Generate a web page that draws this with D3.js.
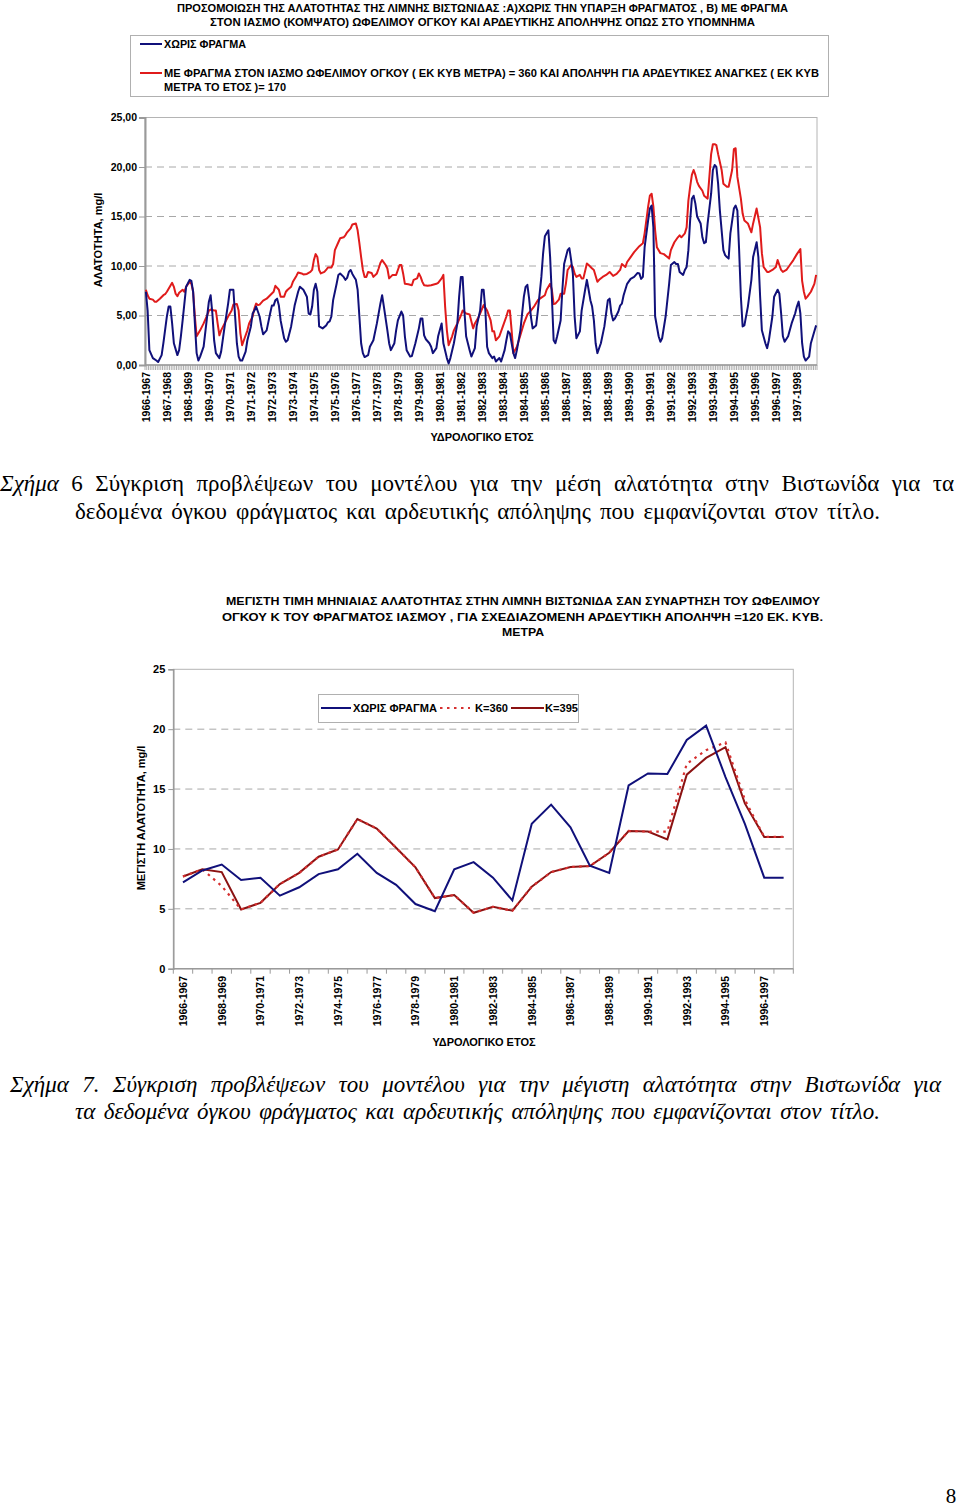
<!DOCTYPE html>
<html>
<head>
<meta charset="utf-8">
<script src="https://cdn.jsdelivr.net/npm/d3@7"></script>
<style>
  body { margin: 0; background: #fff; }
  svg { display: block; }
  text { font-family: "Liberation Sans", Arial, sans-serif; }
</style>
</head>
<body>
<svg id="chart" width="960" height="1509"></svg>
<script>
// ---------------- DATA: chart 1 (monthly mean salinity, mg/l) ----------------
const hydroYears = ["1966-1967","1967-1968","1968-1969","1969-1970","1970-1971","1971-1972","1972-1973","1973-1974","1974-1975","1975-1976","1976-1977","1977-1978","1978-1979","1979-1980","1980-1981","1981-1982","1982-1983","1983-1984","1984-1985","1985-1986","1986-1987","1987-1988","1988-1989","1989-1990","1990-1991","1991-1992","1992-1993","1993-1994","1994-1995","1995-1996","1996-1997","1997-1998"];
const monthsTotal = 384;
const yTicks1 = [0, 5, 10, 15, 20, 25];

// series "ΧΩΡΙΣ ΦΡΑΓΜΑ" (month index from Oct 1966, value)
const noDamMonth = [0,1,2,4,6,7,9,10,12,13,14,15,16,18,19,20,21,23,25,26,27,28,29,30,31,33,35,36,37,38,39,40,42,43,45,47,48,50,51,52,53,54,55,57,58,60,61,62,63,64,65,66,67,69,71,72,73,74,75,76,77,79,80,81,83,85,87,88,90,92,93,94,95,96,97,98,99,101,103,104,105,106,107,109,110,111,113,114,115,116,117,118,119,120,121,122,123,124,125,127,128,130,132,134,135,136,138,139,140,142,143,144,146,147,148,149,151,152,154,156,157,158,159,160,161,162,163,164,166,167,169,170,172,173,174,176,178,179,180,181,182,183,185,186,188,189,191,192,193,194,195,196,198,199,200,202,203,205,206,207,208,210,211,212,214,216,217,218,219,220,221,223,224,226,227,228,229,230,231,232,233,234,235,237,238,239,241,242,243,244,245,246,248,249,251,252,253,254,255,256,257,258,260,262,264,265,266,267,268,270,271,272,273,275,277,279,281,282,283,284,285,287,288,289,290,291,293,294,295,297,299,300,302,303,304,305,307,308,309,310,311,312,313,314,315,317,318,319,320,321,323,324,325,326,327,328,329,330,331,332,333,334,336,337,338,339,340,341,342,344,346,347,349,350,351,352,354,355,356,358,359,361,362,363,364,365,367,369,371,372,373,374,375,376,377,379,380,382,383];
const noDamValue = [7.4,5.5,1.5,0.7,0.45,0.3,1.0,2.2,4.9,5.9,5.9,4.2,2.2,1.0,1.5,2.9,4.5,7.9,8.6,8.5,7.4,4.2,1.2,0.45,0.85,1.85,4.9,6.4,7.05,5.2,2.5,1.2,0.7,1.35,3.9,6.2,7.6,7.6,4.9,2.2,0.85,0.45,0.45,1.35,2.5,3.9,5.2,5.5,5.9,5.4,4.9,3.9,3.1,3.5,5.2,6.0,6.0,6.55,6.7,6.0,4.5,2.7,2.35,2.5,3.9,6.0,7.4,7.9,7.6,6.9,5.2,5.1,5.9,7.6,8.2,7.4,3.9,3.7,4.0,4.3,4.4,4.9,6.55,8.2,9.1,9.25,8.9,8.6,8.8,9.4,9.6,9.2,8.9,8.6,7.6,4.9,2.2,1.2,0.8,1.0,1.85,2.5,4.2,6.2,7.05,5.9,3.5,2.2,1.5,2.2,3.5,4.5,5.4,5.0,2.9,1.5,0.85,0.9,2.2,3.7,4.7,4.7,3.0,2.6,2.4,2.2,1.85,1.2,1.7,2.9,4.2,2.2,0.7,0.15,0.7,2.2,4.2,6.9,8.9,8.9,5.5,2.9,1.5,0.85,1.7,3.9,5.5,7.6,7.6,5.5,1.85,1.2,0.7,0.85,0.35,0.7,0.35,1.5,2.5,3.4,3.2,1.2,0.7,1.5,3.5,6.9,7.9,8.1,6.7,4.9,3.7,4.0,5.5,8.9,11.3,13.0,13.3,13.6,10.9,6.9,2.5,2.2,2.9,4.5,7.6,10.2,11.6,11.8,10.6,9.2,4.9,2.7,3.4,5.5,7.6,8.6,7.6,6.55,5.9,4.5,2.2,1.2,2.2,3.9,6.55,6.7,5.2,4.5,4.7,5.4,6.0,6.2,7.05,8.2,8.7,8.9,9.3,9.25,8.7,8.9,11.9,14.6,15.8,16.1,13.9,4.9,2.9,2.35,2.7,4.9,8.2,10.1,10.4,10.2,10.2,9.4,9.1,9.6,9.9,11.6,14.6,16.8,17.1,16.3,15.0,14.3,12.9,12.3,12.4,14.3,17.3,19.7,20.2,20.0,18.3,15.6,13.6,11.6,11.1,10.9,10.75,13.3,15.8,16.1,15.6,11.6,6.9,3.9,4.0,5.9,8.6,10.9,12.4,10.9,6.9,3.5,2.2,1.7,2.5,4.9,6.9,7.6,7.2,5.2,2.9,2.35,2.9,4.2,5.2,5.9,6.4,5.2,2.2,0.85,0.45,0.85,2.2,3.4,4.0];

// series "ΜΕ ΦΡΑΓΜΑ ... = 360 ... = 170"
const damMonth = [0,1,2,4,5,6,8,10,11,12,14,15,16,17,18,19,21,22,23,25,26,27,28,29,31,33,35,36,37,39,40,41,42,43,45,47,49,50,52,53,54,55,56,58,59,61,62,63,64,65,67,69,71,73,74,76,77,79,80,81,83,84,86,87,89,90,92,94,95,96,97,98,99,100,102,103,104,106,107,108,110,111,113,114,115,117,118,120,121,122,123,124,125,126,127,129,130,132,133,134,135,137,138,139,141,143,144,145,146,147,148,150,152,153,155,156,157,158,159,161,163,166,167,169,170,171,172,173,175,176,178,180,181,183,185,187,188,190,191,193,195,197,198,199,200,202,204,206,207,208,209,210,212,214,216,218,220,222,224,226,228,229,231,232,233,234,236,237,239,240,241,243,244,245,246,248,249,250,252,253,255,256,258,259,261,263,265,267,269,271,272,274,275,277,279,281,282,284,285,287,288,289,290,291,292,294,296,298,299,300,302,304,305,306,308,309,310,311,312,313,314,315,316,318,319,321,322,323,324,325,326,327,329,330,332,333,335,336,337,338,340,341,342,344,346,347,349,351,352,353,355,356,358,360,361,363,364,366,368,370,372,374,375,376,377,378,380,382,383];
const damValue = [7.6,7.05,6.7,6.6,6.4,6.4,6.7,7.05,7.15,7.4,8.0,8.3,7.9,7.2,6.95,7.3,7.6,7.4,7.9,8.4,8.2,7.4,4.9,2.9,3.5,4.2,5.0,5.5,5.6,5.5,5.5,4.2,3.0,3.5,4.2,4.9,5.5,6.1,6.15,5.5,3.2,2.0,2.5,3.5,4.2,4.9,5.7,6.2,6.05,6.1,6.5,6.7,7.05,7.4,8.0,7.6,6.9,6.9,7.4,7.6,7.9,8.4,9.0,9.35,9.25,9.15,9.2,9.4,9.6,10.6,11.2,10.9,9.6,9.25,9.4,9.6,9.85,9.85,10.2,11.6,12.4,12.8,12.9,13.1,13.4,13.8,14.2,14.3,13.6,12.3,10.9,9.6,8.9,8.9,9.4,9.3,8.9,9.25,9.75,10.3,10.6,10.1,9.75,8.75,9.1,9.1,9.6,10.1,10.1,9.25,8.2,8.15,8.05,8.6,8.75,9.25,8.9,8.4,8.05,8.0,8.05,8.2,8.3,8.75,9.1,5.9,3.5,2.0,2.9,3.5,4.2,5.0,5.5,5.2,5.1,3.7,4.2,4.8,5.2,6.05,5.5,4.5,3.4,3.4,2.5,2.9,3.9,4.9,5.5,5.5,3.5,1.2,1.85,3.0,4.2,5.1,5.5,5.95,6.55,6.8,7.05,7.6,8.2,7.6,6.15,6.2,6.6,7.2,7.2,8.2,9.6,10.1,9.9,9.25,8.9,9.1,8.75,8.75,10.25,10.1,9.75,9.6,8.4,8.6,8.9,9.1,9.4,9.0,9.2,9.6,10.2,9.9,10.4,10.9,11.4,11.8,12.0,12.3,13.3,16.0,17.1,17.3,16.0,13.6,11.9,11.3,11.2,10.9,10.75,11.6,12.4,12.9,13.1,12.9,13.3,13.9,16.6,18.0,19.2,19.7,19.2,18.5,18.1,17.6,17.1,16.8,19.0,21.3,22.3,22.3,22.2,21.3,19.7,18.3,18.0,18.0,19.7,21.8,21.9,19.0,16.8,15.3,14.6,14.3,13.4,14.3,15.8,13.9,11.3,9.9,9.4,9.4,9.6,9.9,10.6,9.6,9.4,9.6,10.1,10.6,11.2,11.7,8.5,7.4,6.7,6.9,7.4,8.2,9.1];

// ---------------- DATA: chart 2 (max monthly salinity per year) ----------------
const yTicks2 = [0, 5, 10, 15, 20, 25];
const maxNoDam = [7.2,8.2,8.7,7.4,7.6,6.1,6.8,7.9,8.3,9.6,8.0,7.0,5.4,4.8,8.3,8.9,7.6,5.7,12.1,13.7,11.8,8.6,8.0,15.3,16.3,16.25,19.1,20.3,16.0,12.1,7.6,7.6];
const maxK360 = [7.7,8.3,6.9,4.95,5.5,7.07,8.0,9.35,9.96,12.5,11.7,10.1,8.46,5.9,6.15,4.67,5.17,4.84,6.85,8.07,8.49,8.57,9.68,11.5,11.45,11.45,17.1,18.25,18.9,14.1,11.0,11.0];
const maxK395 = [7.7,8.3,8.07,4.95,5.5,7.07,8.0,9.35,9.96,12.5,11.7,10.1,8.46,5.9,6.15,4.67,5.17,4.84,6.85,8.07,8.49,8.57,9.68,11.5,11.45,10.8,16.2,17.6,18.5,13.8,11.0,11.0];

// ---------------- RENDER ----------------
const svg = d3.select("#chart");
svg.append("rect").attr("width", 960).attr("height", 1509).attr("fill", "#fff");

const NAVY = "#10107a", RED1 = "#e01b1b", DARKRED = "#8b1212", DOTRED = "#d63030";
const GRID = "#a8a8a8", AXIS = "#9a9a9a";

function fitText(g, str, x, y, width, opts) {
  const t = g.append("text").attr("x", x).attr("y", y).text(str)
    .attr("font-size", opts.size).attr("font-weight", opts.weight || "bold")
    .attr("fill", "#000");
  if (opts.family) t.style("font-family", opts.family);
  if (opts.italic) t.attr("font-style", "italic");
  if (width) t.attr("textLength", width).attr("lengthAdjust", "spacingAndGlyphs");
  return t;
}

// widen only the word gaps so a caption line spans the target width
function spreadWords(t, width) {
  const gaps = (t.text().trim().replace(/\s+/g, " ").match(/ /g) || []).length;
  let ws = 0;
  for (let k = 0; k < 3; k++) {
    const w = t.node().getBBox().width;
    if (gaps === 0) break;
    ws += (width - w) / gaps;
    t.attr("word-spacing", ws);
  }
  if (t.node().getBBox().width > width + 2) {
    t.attr("word-spacing", 0).attr("textLength", width).attr("lengthAdjust", "spacingAndGlyphs");
  }
}

// ===== Chart 1 =====
const c1 = { l: 145, r: 817, t: 117.5, b: 365 };
const x1 = d3.scaleLinear().domain([0, monthsTotal]).range([c1.l, c1.r]);
const y1 = d3.scaleLinear().domain([0, 25]).range([c1.b, c1.t]);
const g1 = svg.append("g");

// titles
fitText(g1, "ΠΡΟΣΟΜΟΙΩΣΗ ΤΗΣ  ΑΛΑΤΟΤΗΤΑΣ  ΤΗΣ ΛΙΜΝΗΣ ΒΙΣΤΩΝΙΔΑΣ :Α)ΧΩΡΙΣ ΤΗΝ ΥΠΑΡΞΗ ΦΡΑΓΜΑΤΟΣ , Β) ΜΕ   ΦΡΑΓΜΑ", 177, 11.5, 611, { size: 10.5 });
fitText(g1, "ΣΤΟΝ  ΙΑΣΜΟ (ΚΟΜΨΑΤΟ)   ΩΦΕΛΙΜΟΥ ΟΓΚΟΥ   ΚΑΙ  ΑΡΔΕΥΤΙΚΗΣ  ΑΠΟΛΗΨΗΣ  ΟΠΩΣ ΣΤΟ ΥΠΟΜΝΗΜΑ", 210, 25.5, 545, { size: 10.5 });

// legend
g1.append("rect").attr("x", 130.5).attr("y", 35.5).attr("width", 698).attr("height", 61)
  .attr("fill", "#fff").attr("stroke", "#b0b0b0").attr("stroke-width", 1);
g1.append("line").attr("x1", 140).attr("x2", 162).attr("y1", 44).attr("y2", 44).attr("stroke", NAVY).attr("stroke-width", 2);
fitText(g1, "ΧΩΡΙΣ ΦΡΑΓΜΑ", 164, 47.5, 82, { size: 10 });
g1.append("line").attr("x1", 140).attr("x2", 162).attr("y1", 73).attr("y2", 73).attr("stroke", RED1).attr("stroke-width", 2);
fitText(g1, "ΜΕ ΦΡΑΓΜΑ ΣΤΟΝ  ΙΑΣΜΟ  ΩΦΕΛΙΜΟΥ  ΟΓΚΟΥ ( ΕΚ ΚΥΒ ΜΕΤΡΑ) = 360 ΚΑΙ  ΑΠΟΛΗΨΗ  ΓΙΑ ΑΡΔΕΥΤΙΚΕΣ ΑΝΑΓΚΕΣ ( ΕΚ ΚΥΒ", 164, 77, 655, { size: 10 });
fitText(g1, "ΜΕΤΡΑ ΤΟ ΕΤΟΣ )= 170", 164, 91, 122, { size: 10 });

// gridlines
g1.selectAll(".grid1").data(yTicks1.filter(d => d > 0 && d < 25)).join("line")
  .attr("x1", c1.l).attr("x2", c1.r).attr("y1", d => y1(d)).attr("y2", d => y1(d))
  .attr("stroke", GRID).attr("stroke-width", 1).attr("stroke-dasharray", "7,5");

// plot border
g1.append("rect").attr("x", c1.l).attr("y", c1.t).attr("width", c1.r - c1.l).attr("height", c1.b - c1.t)
  .attr("fill", "none").attr("stroke", "#b4b4b4").attr("stroke-width", 1);

// y axis
const yAxis1 = d3.axisLeft(y1).tickValues(yTicks1).tickSize(6).tickFormat(d => d3.format(".2f")(d).replace(".", ","));
const ya1 = g1.append("g").attr("transform", `translate(${c1.l},0)`).call(yAxis1);
ya1.select(".domain").attr("stroke", AXIS).attr("stroke-width", 2);
ya1.selectAll(".tick line").attr("stroke", AXIS);
ya1.selectAll(".tick text").attr("font-size", 10.5).attr("font-weight", "bold").attr("fill", "#000").attr("x", -8)
  .style("font-family", "'Liberation Sans', Arial, sans-serif");

// x axis (monthly category ticks)
const monthTicks = d3.range(0, monthsTotal + 1);
g1.append("line").attr("x1", c1.l).attr("x2", c1.r).attr("y1", c1.b).attr("y2", c1.b).attr("stroke", AXIS).attr("stroke-width", 1.5);
g1.selectAll(".mt").data(monthTicks).join("line")
  .attr("x1", d => x1(d)).attr("x2", d => x1(d)).attr("y1", c1.b).attr("y2", c1.b + 5)
  .attr("stroke", "#9c9c9c").attr("stroke-width", 0.8);
g1.selectAll(".yl").data(hydroYears).join("text")
  .attr("transform", (d, i) => `translate(${x1(i * 12 + 0.5) + 3.8},372) rotate(-90)`)
  .attr("text-anchor", "end").attr("font-size", 10.5).attr("font-weight", "bold").text(d => d);
g1.append("text").attr("x", 482).attr("y", 441).attr("text-anchor", "middle")
  .attr("font-size", 11).attr("font-weight", "bold").text("ΥΔΡΟΛΟΓΙΚΟ ΕΤΟΣ");
g1.append("text").attr("transform", "translate(102,240) rotate(-90)").attr("text-anchor", "middle")
  .attr("font-size", 11).attr("font-weight", "bold").text("ΑΛΑΤΟΤΗΤΑ, mg/l");

// lines
const line1 = d3.line().x(d => x1(d[0] + 0.5)).y(d => y1(d[1]));
g1.append("path").datum(damMonth.map((m, i) => [m, damValue[i]])).attr("d", line1)
  .attr("fill", "none").attr("stroke", RED1).attr("stroke-width", 2).attr("stroke-linejoin", "round");
g1.append("path").datum(noDamMonth.map((m, i) => [m, noDamValue[i]])).attr("d", line1)
  .attr("fill", "none").attr("stroke", NAVY).attr("stroke-width", 2).attr("stroke-linejoin", "round");

// caption 6
const serif = "'Liberation Serif', 'Times New Roman', serif";
const capSize = 23;
const cap6 = svg.append("text").attr("x", 0).attr("y", 491).attr("font-size", capSize).style("font-family", serif);
cap6.append("tspan").attr("font-style", "italic").text("Σχήμα");
cap6.append("tspan").text(" 6 Σύγκριση  προβλέψεων  του μοντέλου   για  την  μέση αλατότητα   στην Βιστωνίδα   για τα");
spreadWords(cap6, 955);
const cap6b = svg.append("text").attr("x", 75).attr("y", 519).attr("font-size", capSize).style("font-family", serif)
  .text("δεδομένα  όγκου φράγματος και  αρδευτικής απόληψης  που εμφανίζονται στον τίτλο.");
spreadWords(cap6b, 805);

// ===== Chart 2 =====
const c2 = { l: 173.3, r: 793.3, t: 669.3, b: 968.7 };
const x2 = d3.scaleBand().domain(hydroYears).range([c2.l, c2.r]);
const y2 = d3.scaleLinear().domain([0, 25]).range([c2.b, c2.t]);
const g2 = svg.append("g");

fitText(g2, "ΜΕΓΙΣΤΗ ΤΙΜΗ ΜΗΝΙΑΙΑΣ ΑΛΑΤΟΤΗΤΑΣ  ΣΤΗΝ ΛΙΜΝΗ ΒΙΣΤΩΝΙΔΑ ΣΑΝ ΣΥΝΑΡΤΗΣΗ  ΤΟΥ  ΩΦΕΛΙΜΟΥ", 226, 604.5, 594, { size: 11 });
fitText(g2, "ΟΓΚΟΥ   Κ  ΤΟΥ ΦΡΑΓΜΑΤΟΣ   ΙΑΣΜΟΥ , ΓΙΑ  ΣΧΕΔΙΑΖΟΜΕΝΗ   ΑΡΔΕΥΤΙΚΗ ΑΠΟΛΗΨΗ   =120 ΕΚ. ΚΥΒ.", 222, 620.5, 601, { size: 11 });
fitText(g2, "ΜΕΤΡΑ", 502, 635.5, 42, { size: 11 });

g2.selectAll(".grid2").data(yTicks2.filter(d => d > 0 && d < 25)).join("line")
  .attr("x1", c2.l).attr("x2", c2.r).attr("y1", d => y2(d)).attr("y2", d => y2(d))
  .attr("stroke", GRID).attr("stroke-width", 1).attr("stroke-dasharray", "7,5");
g2.append("rect").attr("x", c2.l).attr("y", c2.t).attr("width", c2.r - c2.l).attr("height", c2.b - c2.t)
  .attr("fill", "none").attr("stroke", "#b4b4b4").attr("stroke-width", 1);

const yAxis2 = d3.axisLeft(y2).tickValues(yTicks2).tickSize(5);
const ya2 = g2.append("g").attr("transform", `translate(${c2.l},0)`).call(yAxis2);
ya2.select(".domain").attr("stroke", AXIS).attr("stroke-width", 1.5);
ya2.selectAll(".tick line").attr("stroke", AXIS);
ya2.selectAll(".tick text").attr("font-size", 11).attr("font-weight", "bold").attr("fill", "#000").attr("x", -8)
  .style("font-family", "'Liberation Sans', Arial, sans-serif");

g2.append("line").attr("x1", c2.l).attr("x2", c2.r).attr("y1", c2.b).attr("y2", c2.b).attr("stroke", AXIS).attr("stroke-width", 1.5);
const bounds2 = hydroYears.map(d => x2(d)).concat([c2.r]);
g2.selectAll(".ct").data(bounds2).join("line")
  .attr("x1", d => d).attr("x2", d => d).attr("y1", c2.b).attr("y2", c2.b + 5)
  .attr("stroke", AXIS).attr("stroke-width", 1);
g2.selectAll(".yl2").data(hydroYears.filter((d, i) => i % 2 === 0)).join("text")
  .attr("transform", d => `translate(${x2(d) + x2.bandwidth() / 2 + 3.8},976) rotate(-90)`)
  .attr("text-anchor", "end").attr("font-size", 10.5).attr("font-weight", "bold").text(d => d);
g2.append("text").attr("x", 484).attr("y", 1046).attr("text-anchor", "middle")
  .attr("font-size", 11).attr("font-weight", "bold").text("ΥΔΡΟΛΟΓΙΚΟ ΕΤΟΣ");
g2.append("text").attr("transform", "translate(145,818) rotate(-90)").attr("text-anchor", "middle")
  .attr("font-size", 11).attr("font-weight", "bold").text("ΜΕΓΙΣΤΗ  ΑΛΑΤΟΤΗΤΑ, mg/l");

const line2 = d3.line().x(d => x2(d[0]) + x2.bandwidth() / 2).y(d => y2(d[1]));
g2.append("path").datum(hydroYears.map((c, i) => [c, maxK395[i]])).attr("d", line2)
  .attr("fill", "none").attr("stroke", DARKRED).attr("stroke-width", 2);
g2.append("path").datum(hydroYears.map((c, i) => [c, maxK360[i]])).attr("d", line2)
  .attr("fill", "none").attr("stroke", DOTRED).attr("stroke-width", 2.2).attr("stroke-dasharray", "2.5,4.5");
g2.append("path").datum(hydroYears.map((c, i) => [c, maxNoDam[i]])).attr("d", line2)
  .attr("fill", "none").attr("stroke", NAVY).attr("stroke-width", 2);

// legend chart 2
g2.append("rect").attr("x", 318.5).attr("y", 694.5).attr("width", 260).attr("height", 28)
  .attr("fill", "#fff").attr("stroke", "#b0b0b0");
g2.append("line").attr("x1", 321).attr("x2", 351).attr("y1", 708).attr("y2", 708).attr("stroke", NAVY).attr("stroke-width", 2);
fitText(g2, "ΧΩΡΙΣ ΦΡΑΓΜΑ", 353, 712, 84, { size: 11 });
g2.append("line").attr("x1", 440).attr("x2", 470).attr("y1", 708).attr("y2", 708).attr("stroke", DOTRED).attr("stroke-width", 2.2).attr("stroke-dasharray", "2.5,4.5");
fitText(g2, "K=360", 475, 712, 33, { size: 11 });
g2.append("line").attr("x1", 511).attr("x2", 544).attr("y1", 708).attr("y2", 708).attr("stroke", DARKRED).attr("stroke-width", 2);
fitText(g2, "K=395", 545, 712, 33, { size: 11 });

// caption 7
const cap7 = svg.append("text").attr("x", 10).attr("y", 1092).attr("font-size", capSize).attr("font-style", "italic")
  .style("font-family", serif)
  .text("Σχήμα  7.  Σύγκριση  προβλέψεων  του μοντέλου   για  την  μέγιστη   αλατότητα   στην Βιστωνίδα   για");
spreadWords(cap7, 933);
const cap7b = svg.append("text").attr("x", 75).attr("y", 1119).attr("font-size", capSize).attr("font-style", "italic")
  .style("font-family", serif)
  .text("τα δεδομένα  όγκου φράγματος και  αρδευτικής απόληψης  που εμφανίζονται στον τίτλο.");
spreadWords(cap7b, 805);

// page number
svg.append("text").attr("x", 951).attr("y", 1503).attr("text-anchor", "middle").attr("font-size", 21)
  .style("font-family", serif).text("8");
</script>
</body>
</html>
